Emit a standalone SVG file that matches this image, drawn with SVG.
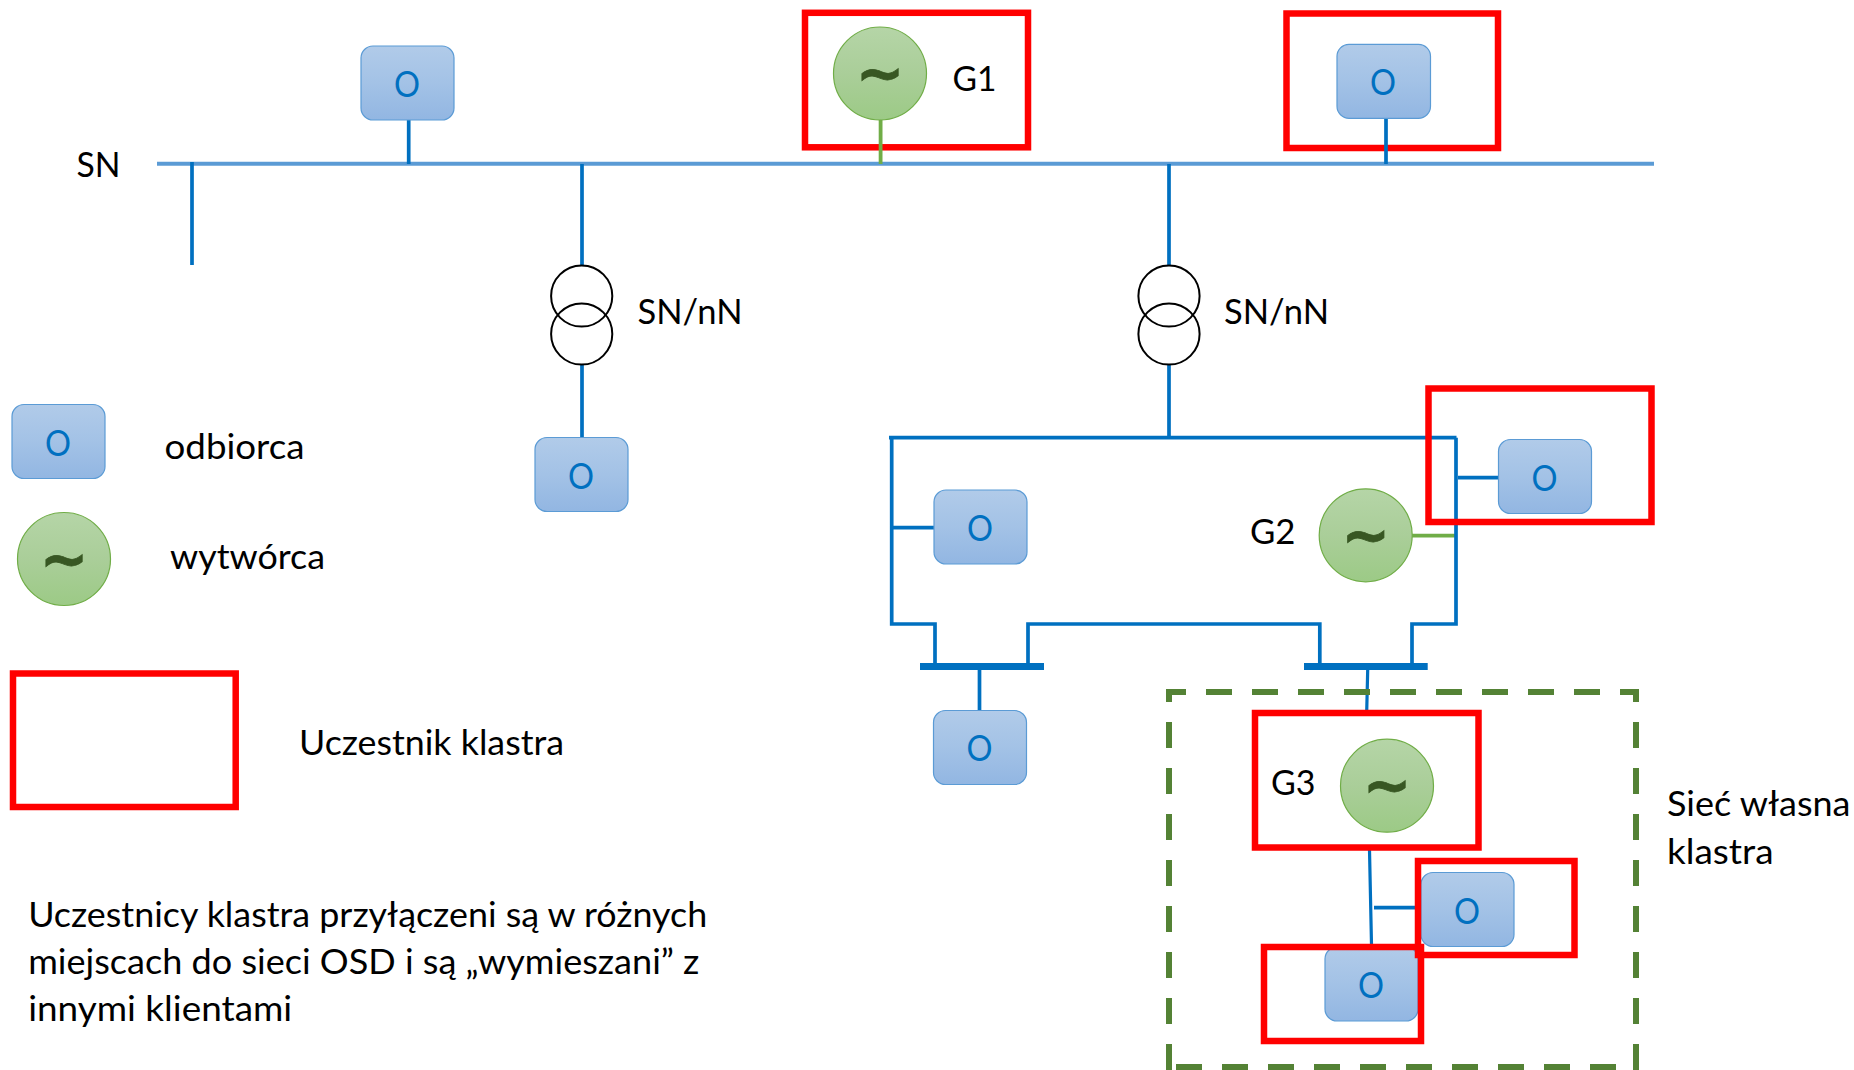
<svg xmlns="http://www.w3.org/2000/svg" width="1854" height="1070" viewBox="0 0 1854 1070">
<defs>
<linearGradient id="gb" x1="0" y1="0" x2="0" y2="1"><stop offset="0" stop-color="#B1CBE9"/><stop offset="0.5" stop-color="#A3C2E6"/><stop offset="1" stop-color="#92B6E2"/></linearGradient>
<linearGradient id="gg" x1="0" y1="0" x2="0" y2="1"><stop offset="0" stop-color="#B5D5A7"/><stop offset="0.5" stop-color="#AACE99"/><stop offset="1" stop-color="#9CCA86"/></linearGradient>
</defs>
<style>
.t{font-family:"Lato","Carlito","Liberation Sans",sans-serif;font-size:34px;fill:#000}
.b{fill:url(#gb);stroke:#5B9BD5;stroke-width:1.2}
.o{font-family:"Lato","Liberation Sans",sans-serif;font-size:37px;fill:#0070C0;text-anchor:middle}
.g{fill:url(#gg);stroke:#70AD47;stroke-width:1.2}
.w{font-family:"DejaVu Sans",sans-serif;font-weight:bold;font-size:58px;fill:#385723;stroke:#385723;stroke-width:0.8;text-anchor:middle}
.r{fill:none;stroke:#FF0000;stroke-width:6.5}
.c{fill:none;stroke:#0070C0;stroke-width:3.7}
.bus{fill:none;stroke:#0070C0;stroke-width:7}
.gc{fill:none;stroke:#70AD47;stroke-width:3.8}
.sn{fill:none;stroke:#5B9BD5;stroke-width:4}
.tr{fill:none;stroke:#000;stroke-width:2}
.d{fill:none;stroke:#548235;stroke-width:6;stroke-dasharray:26 20}
</style>
<rect width="1854" height="1070" fill="#fff"/>
<g id="uczestnik-g1"><rect class="r" x="805" y="12.8" width="223" height="134.5"/></g>
<g id="uczestnik-o2"><rect class="r" x="1286.5" y="13.5" width="211.5" height="134.5"/></g>
<g id="connectors">
<path class="sn" d="M157 163.7H1654"/>
<path class="c" d="M192 162V265M408.7 120V164M582 164V265M582 365V437M1169 164V265M1169 365V438M1386 118V164"/>
<path class="gc" d="M880.6 120V164M1412 535.7H1456"/>
<path class="c" d="M889 437.7H1456.5M891.7 437.7V624H935V664M1028 664V624H1319.8V664M1412 664V624H1456V437.7M892 527.7H934M1458 477.7H1498M979.5 670V710"/>
<path class="bus" d="M920 666.5H1044M1304 666.5H1427.7"/>
<path class="c" style="stroke-width:3.2" d="M1367.7 670L1366.7 712M1369.5 850L1371.5 945"/>
<path class="c" d="M1374 907.7H1415"/>
</g>
<g id="transformer-1"><circle class="tr" cx="581.7" cy="296" r="30.6"/><circle class="tr" cx="581.7" cy="334" r="30.6"/></g>
<g id="transformer-2"><circle class="tr" cx="1169" cy="296" r="30.6"/><circle class="tr" cx="1169" cy="334" r="30.6"/></g>
<g id="odbiorca-1"><rect class="b" x="361" y="46" width="93" height="74" rx="12"/><text class="o" x="407" y="97" textLength="26" lengthAdjust="spacingAndGlyphs">O</text></g>
<g id="odbiorca-2"><rect class="b" x="1337" y="44.3" width="93.5" height="74" rx="12"/><text class="o" x="1383" y="95.3" textLength="26" lengthAdjust="spacingAndGlyphs">O</text></g>
<g id="odbiorca-3"><rect class="b" x="535" y="437.5" width="93" height="74" rx="12"/><text class="o" x="581" y="488.5" textLength="26" lengthAdjust="spacingAndGlyphs">O</text></g>
<g id="odbiorca-4"><rect class="b" x="934" y="490" width="93" height="74" rx="12"/><text class="o" x="980" y="541" textLength="26" lengthAdjust="spacingAndGlyphs">O</text></g>
<g id="odbiorca-5"><rect class="b" x="1498.5" y="439.5" width="93" height="74" rx="12"/><text class="o" x="1544.5" y="490.5" textLength="26" lengthAdjust="spacingAndGlyphs">O</text></g>
<g id="odbiorca-6"><rect class="b" x="933.5" y="710.5" width="93" height="74" rx="12"/><text class="o" x="979.5" y="761" textLength="26" lengthAdjust="spacingAndGlyphs">O</text></g>
<g id="odbiorca-7"><rect class="b" x="1421" y="872.5" width="93" height="74" rx="12"/><text class="o" x="1467" y="923.5" textLength="26" lengthAdjust="spacingAndGlyphs">O</text></g>
<g id="odbiorca-8"><rect class="b" x="1325" y="947" width="93" height="74" rx="12"/><text class="o" x="1371" y="998" textLength="26" lengthAdjust="spacingAndGlyphs">O</text></g>
<g id="wytworca-g1"><circle class="g" cx="880" cy="73.5" r="46.5"/><text class="w" x="880" y="93">~</text></g>
<g id="wytworca-g2"><circle class="g" cx="1365.7" cy="535.3" r="46.5"/><text class="w" x="1365.7" y="555">~</text></g>
<g id="wytworca-g3"><circle class="g" cx="1387" cy="785.7" r="46.5"/><text class="w" x="1387" y="805">~</text></g>
<g id="legenda-odbiorca"><rect class="b" x="12" y="404.5" width="93" height="74" rx="12"/><text class="o" x="58" y="455.5" textLength="26" lengthAdjust="spacingAndGlyphs">O</text><text class="t" x="164.5" y="458.5" textLength="140" lengthAdjust="spacingAndGlyphs">odbiorca</text></g>
<g id="legenda-wytworca"><circle class="g" cx="64" cy="559" r="46.5"/><text class="w" x="64" y="578.5">~</text><text class="t" x="170" y="568.5" textLength="155" lengthAdjust="spacingAndGlyphs">wytwórca</text></g>
<g id="legenda-uczestnik"><rect class="r" x="13" y="673.5" width="222.7" height="133.5"/><text class="t" x="299" y="754.5" textLength="265" lengthAdjust="spacingAndGlyphs">Uczestnik klastra</text></g>
<g id="uczestnik-o5"><rect class="r" x="1428.5" y="388.5" width="223" height="133.5"/></g>
<g id="siec-wlasna">
<path class="d" d="M1166 692H1636V1070" style="stroke-dashoffset:6"/>
<path class="d" d="M1636 1067H1169" style="stroke-dashoffset:26"/>
<path class="d" d="M1169 1070V689"/>
</g>
<g id="uczestnik-g3"><rect class="r" x="1255" y="713" width="223.5" height="134.5"/></g>
<g id="uczestnik-o7"><rect class="r" x="1418" y="861" width="156.5" height="94"/></g>
<g id="uczestnik-o8"><rect class="r" x="1264" y="947" width="157" height="94"/></g>
<g id="labels">
<text class="t" x="76.5" y="177" textLength="44" lengthAdjust="spacingAndGlyphs">SN</text>
<text class="t" x="952.5" y="91" textLength="44" lengthAdjust="spacingAndGlyphs">G1</text>
<text class="t" x="1250" y="543.5" textLength="45.5" lengthAdjust="spacingAndGlyphs">G2</text>
<text class="t" x="1271" y="794.5" textLength="44.5" lengthAdjust="spacingAndGlyphs">G3</text>
<text class="t" x="637.5" y="323.5" textLength="105" lengthAdjust="spacingAndGlyphs">SN/nN</text>
<text class="t" x="1224" y="323.5" textLength="105" lengthAdjust="spacingAndGlyphs">SN/nN</text>
<text class="t" x="1667" y="816" textLength="183.5" lengthAdjust="spacingAndGlyphs">Sieć własna</text>
<text class="t" x="1667" y="863.5" textLength="106.5" lengthAdjust="spacingAndGlyphs">klastra</text>
<text class="t" x="28.2" y="926.5" textLength="679" lengthAdjust="spacingAndGlyphs">Uczestnicy klastra przyłączeni są w różnych</text>
<text class="t" x="28.2" y="974" textLength="671" lengthAdjust="spacingAndGlyphs">miejscach do sieci OSD i są „wymieszani” z</text>
<text class="t" x="28.2" y="1021" textLength="264" lengthAdjust="spacingAndGlyphs">innymi klientami</text>
</g>
</svg>
